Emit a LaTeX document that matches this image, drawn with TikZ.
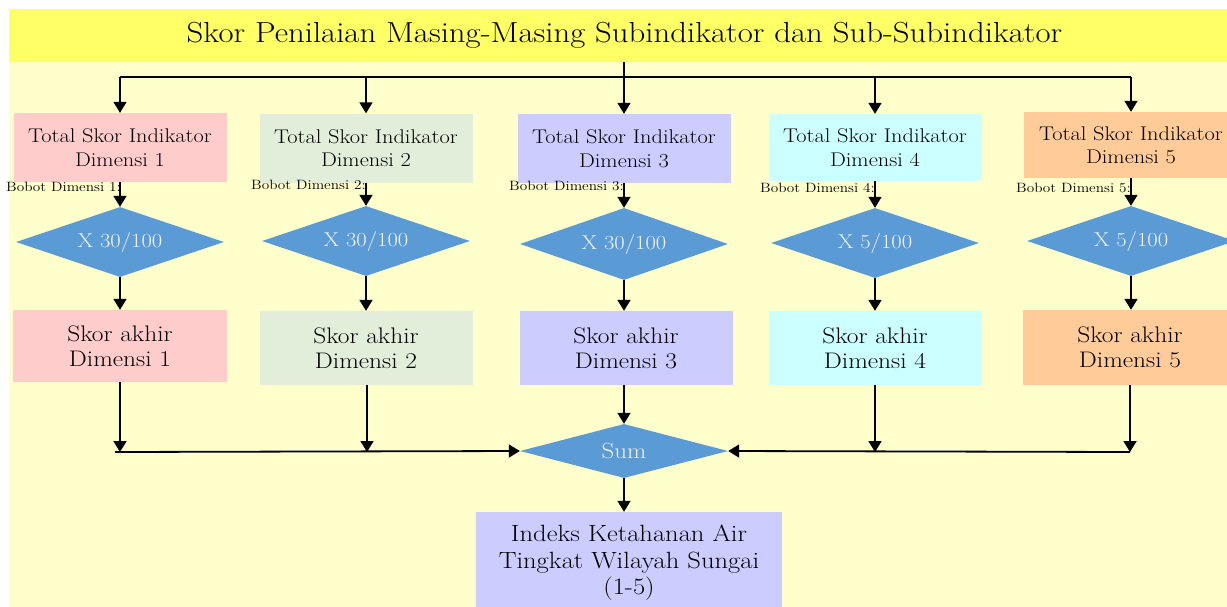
\documentclass[tikz,border=0pt]{standalone}
\usepackage{fontspec}
\setmainfont{Latin Modern Roman}[FakeStretch=1.13]
\usetikzlibrary{shapes.geometric,arrows.meta}
\definecolor{bgyellow}{HTML}{FFFFCC}
\definecolor{baryellow}{HTML}{FFFF66}
\definecolor{dimpink}{HTML}{FFCCCC}
\definecolor{dimgreen}{HTML}{E2EDDA}
\definecolor{dimlav}{HTML}{CCCCFF}
\definecolor{dimcyan}{HTML}{CCFFFF}
\definecolor{dimpeach}{HTML}{FFCC99}
\definecolor{dblue}{HTML}{5B9BD5}
\begin{document}
\begin{tikzpicture}[x=1pt,y=-1pt,
  box/.style={rectangle, inner sep=0pt, minimum width=213pt, align=center},
  topbox/.style={box, minimum height=69pt, font=\fontsize{19.8}{23.5}\selectfont},
  endbox/.style={box, minimum height=74pt, font=\fontsize{22.5}{25}\selectfont},
  weight/.style={diamond, aspect=3, fill=dblue, inner sep=0pt, minimum width=208pt,
    minimum height=70pt, text=white!95!black, font=\fontsize{20}{22}\selectfont},
  bobot/.style={anchor=east, inner sep=0pt, font=\fontsize{13.5}{15}\selectfont},
  conn/.style={line width=1.8pt, -{Triangle[length=11pt,width=13pt]}},
  plain/.style={line width=1.8pt}
]
\useasboundingbox (0,0) rectangle (1227,606);
\clip (0,0) rectangle (1227,606);
\fill[white] (0,0) rectangle (1227,606);
\fill[bgyellow] (9,9) rectangle (1240,620);

% title bar
\node[rectangle, fill=baryellow, minimum width=1231pt, minimum height=53pt, inner sep=0pt,
  font=\fontsize{29}{31}\selectfont] (title) at (624.5,35.5)
  {Skor Penilaian Masing-Masing Subindikator dan Sub-Subindikator};

% total indicator scores
\node[topbox, fill=dimpink]  (b1) at (120,147.5) {Total Skor Indikator\\Dimensi 1};
\node[topbox, fill=dimgreen] (b2) at (366,148)   {Total Skor Indikator\\Dimensi 2};
\node[topbox, fill=dimlav]   (b3) at (624,148.5) {Total Skor Indikator\\Dimensi 3};
\node[topbox, fill=dimcyan, minimum height=67pt] (b4) at (875,147.5) {Total Skor Indikator\\Dimensi 4};
\node[topbox, fill=dimpeach, minimum height=66pt, minimum width=214pt] (b5) at (1131,145) {Total Skor Indikator\\Dimensi 5};

% weights
\node[weight] (d1) at (120,242) {X 30/100};
\node[weight] (d2) at (366,241) {X 30/100};
\node[weight, minimum height=72pt] (d3) at (624,244) {X 30/100};
\node[weight] (d4) at (875,243) {X 5/100};
\node[weight] (d5) at (1131,241) {X 5/100};

\node[bobot] (w1) at (121,187) {Bobot Dimensi 1:};
\node[bobot] (w2) at (366,185) {Bobot Dimensi 2:};
\node[bobot] (w3) at (624,186) {Bobot Dimensi 3:};
\node[bobot] (w4) at (875,188) {Bobot Dimensi 4:};
\node[bobot] (w5) at (1131,188) {Bobot Dimensi 5:};

% final dimension scores
\node[endbox, fill=dimpink, minimum height=72pt, minimum width=214pt] (s1) at (120,346) {Skor akhir\\Dimensi 1};
\node[endbox, fill=dimgreen]  (s2) at (366,348) {Skor akhir\\Dimensi 2};
\node[endbox, fill=dimlav]    (s3) at (626,348) {Skor akhir\\Dimensi 3};
\node[endbox, fill=dimcyan]   (s4) at (875,348) {Skor akhir\\Dimensi 4};
\node[endbox, fill=dimpeach, minimum height=75pt, minimum width=214pt] (s5) at (1130,347.5) {Skor akhir\\Dimensi 5};

% sum and index
\node[weight, minimum height=54pt, font=\fontsize{22}{24}\selectfont] (sum) at (624,451) {Sum};
\node[box, fill=dimlav, minimum width=306pt, minimum height=102pt,
  font=\fontsize{23.5}{26.5}\selectfont] (idx) at (629,563)
  {Indeks Ketahanan Air\\Tingkat Wilayah Sungai\\(1-5)};

% distribution from the title bar
\coordinate (top) at (624,77);
\draw[plain] (title.south -| top) -- (top);
\draw[plain] (b1.north |- top) -- (b5.north |- top);
\foreach \b in {b1,b2,b3,b4,b5}
  \draw[conn] (\b.north |- top) -- (\b.north);

% box -> weight -> final score
\foreach \i in {1,...,5} {
  \draw[conn] (b\i.south -| d\i) -- (d\i.north);
  \draw[conn] (d\i.south) -- (s\i.north -| d\i);
}

% collection into the sum
\coordinate (j1) at (120,452);
\coordinate (j2) at (367,452);
\coordinate (j4) at (875,452);
\coordinate (j5) at (1130,452);
\draw[conn] (s1.south -| j1) -- (j1);
\draw[conn] (s2.south -| j2) -- (j2);
\draw[conn] (s4.south -| j4) -- (j4);
\draw[conn] (s5.south -| j5) -- (j5);
\draw[conn] (s3.south -| sum) -- (sum.north);
\draw[conn] ([xshift=-5pt]j1) -- (sum.west);
\draw[conn] (j5) -- (sum.east);
\draw[conn] (sum.south) -- (sum.south |- idx.north);
\end{tikzpicture}
\end{document}
